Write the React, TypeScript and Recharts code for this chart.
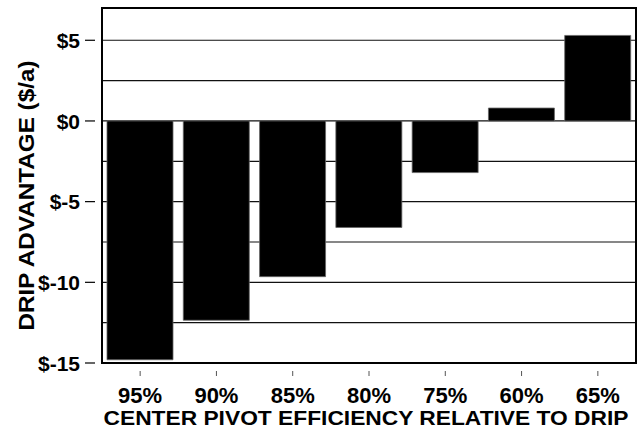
import React from 'react';
import {
  BarChart,
  Bar,
  XAxis,
  YAxis,
  CartesianGrid,
  ReferenceArea,
} from 'recharts';

const categories = ['95%', '90%', '85%', '80%', '75%', '60%', '65%'];
const advantage = [-14.8, -12.35, -9.65, -6.6, -3.2, 0.8, 5.3];
const yTicks = [-15, -12.5, -10, -7.5, -5, -2.5, 0, 2.5, 5];

const data = categories.map((c, i) => ({ name: c, value: advantage[i] }));

const FONT = '"Liberation Sans", Arial, sans-serif';

const YTick = ({ x, y, payload }: any) => {
  const v = payload.value;
  if (v % 5 !== 0) return null;
  return (
    <g>
      <line x1={x - 9} x2={x + 1} y1={y} y2={y} stroke="#000" strokeWidth={1.2} />
      <text
        x={x - 14}
        y={y}
        dy="0.36em"
        textAnchor="end"
        fontFamily={FONT}
        fontWeight="bold"
        fontSize={21}
        fill="#000"
      >
        {`$${v}`}
      </text>
    </g>
  );
};

const XTick = ({ x, y, payload }: any) => (
  <g>
    <line x1={x} x2={x} y1={y} y2={y + 5} stroke="#555" strokeWidth={1} />
    <text
      x={x}
      y={y + 32}
      textAnchor="middle"
      fontFamily={FONT}
      fontWeight="bold"
      fontSize={22}
      fill="#000"
    >
      {payload.value}
    </text>
  </g>
);

const YLabel = ({ viewBox }: any) => {
  const cx = 34;
  const cy = viewBox.y + viewBox.height / 2 + 10;
  return (
    <text
      x={cx}
      y={cy}
      transform={`rotate(-90, ${cx}, ${cy})`}
      textAnchor="middle"
      textLength={270}
      lengthAdjust="spacingAndGlyphs"
      fontFamily={FONT}
      fontWeight="bold"
      fontSize={22}
      fill="#000"
    >
      DRIP ADVANTAGE ($/a)
    </text>
  );
};

const XLabel = ({ viewBox }: any) => (
  <text
    x={viewBox.x + viewBox.width / 2 - 3}
    y={425}
    textAnchor="middle"
    textLength={525}
    lengthAdjust="spacingAndGlyphs"
    fontFamily={FONT}
    fontWeight="bold"
    fontSize={21}
    fill="#000"
  >
    CENTER PIVOT EFFICIENCY RELATIVE TO DRIP
  </text>
);

export default function App() {
  return (
    <div style={{ position: 'absolute', left: 0, top: 0, background: '#fff' }}>
      <BarChart
        width={644}
        height={431}
        data={data}
        margin={{ top: 8, right: 8, left: 0, bottom: 0 }}
        barCategoryGap={5}
      >
        <CartesianGrid
          xAxisId="main"
          yAxisId="main"
          vertical={false}
          stroke="#111"
          strokeWidth={1.2}
        />
        <XAxis
          dataKey="name"
          xAxisId="main"
          height={68}
          axisLine={{ stroke: '#000', strokeWidth: 2 }}
          tickLine={false}
          tick={<XTick />}
          interval={0}
          label={<XLabel />}
        />
        <YAxis
          yAxisId="main"
          type="number"
          domain={[-15, 7]}
          ticks={yTicks}
          allowDataOverflow
          width={102}
          axisLine={{ stroke: '#000', strokeWidth: 2 }}
          tickLine={false}
          tick={<YTick />}
          interval={0}
          label={<YLabel />}
        />
        <Bar
          dataKey="value"
          xAxisId="main"
          yAxisId="main"
          fill="#000"
          stroke="#666"
          strokeWidth={0.8}
          isAnimationActive={false}
        />
        <ReferenceArea
          xAxisId="main"
          yAxisId="main"
          y1={-15}
          y2={7}
          ifOverflow="visible"
          fill="none"
          fillOpacity={0}
          stroke="#000"
          strokeOpacity={1}
          strokeWidth={2}
        />
      </BarChart>
    </div>
  );
}
